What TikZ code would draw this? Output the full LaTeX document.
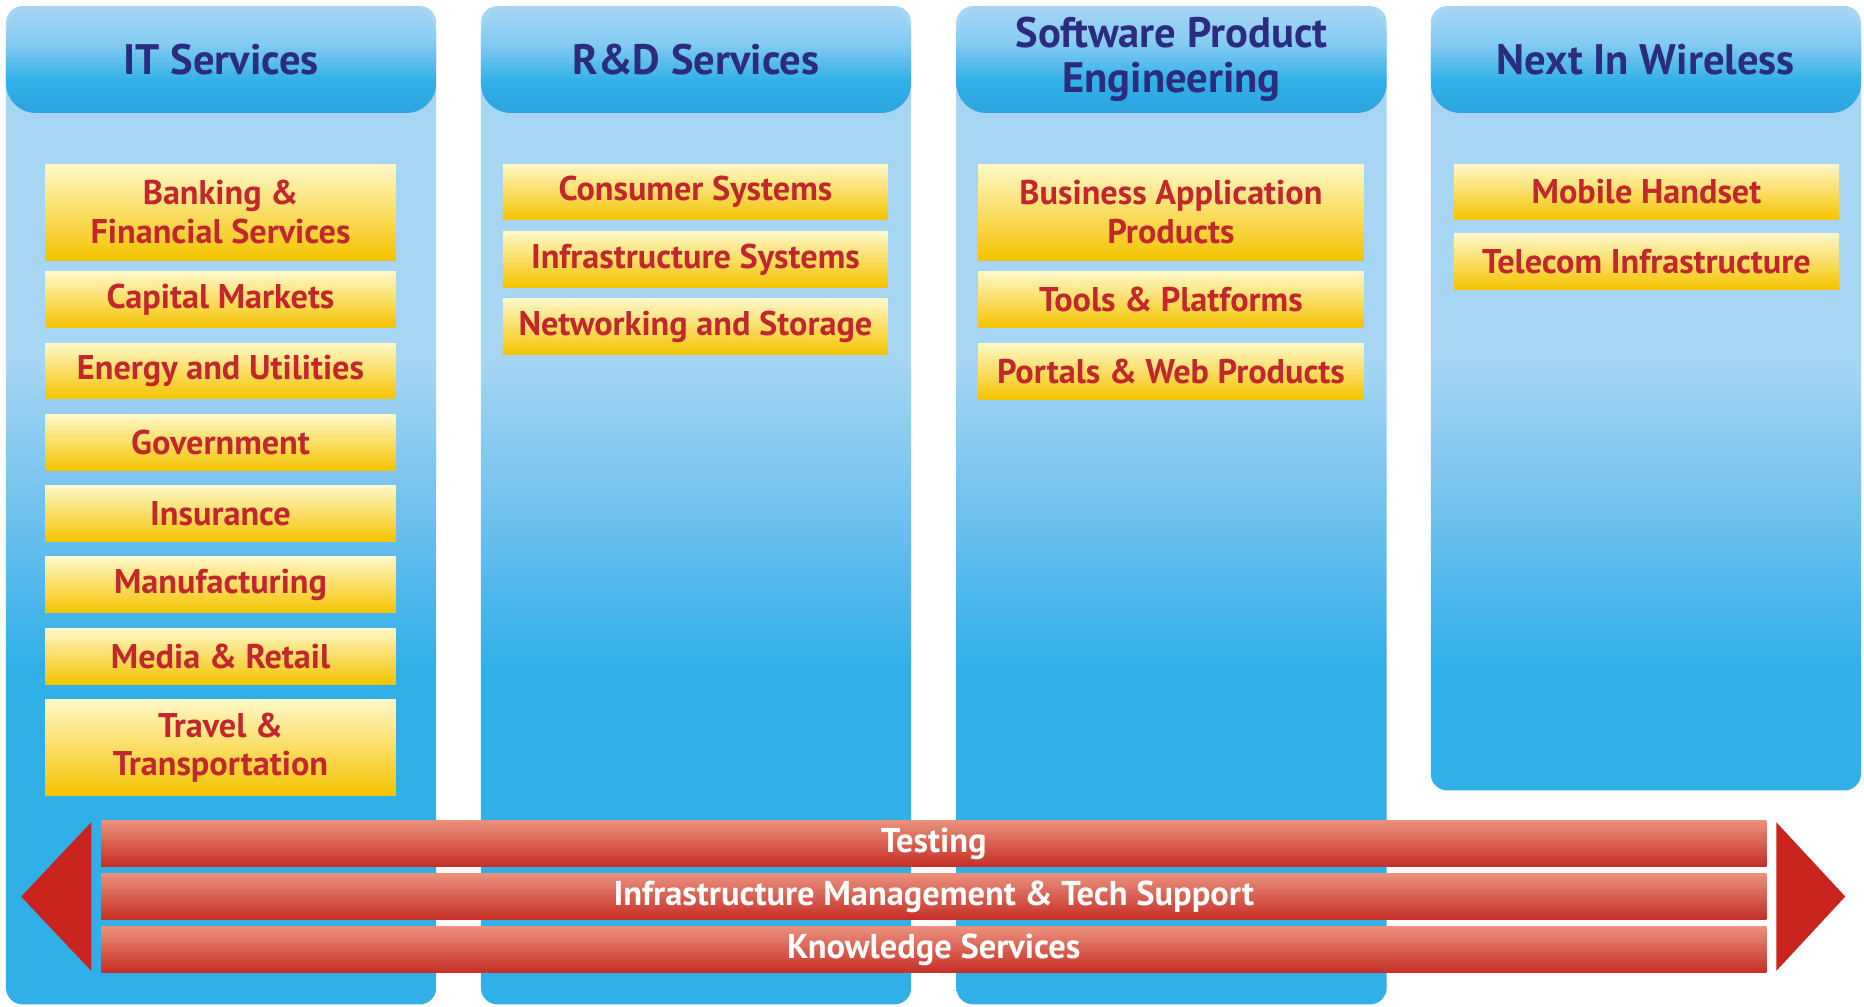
\documentclass[tikz,border=0pt]{standalone}
\usepackage{fontspec}
\setmainfont{PT Sans}
\usetikzlibrary{calc,positioning}
\definecolor{headtxt}{HTML}{2B2C7E}
\definecolor{itemtxt}{HTML}{C1272D}
\definecolor{skyL}{HTML}{A7D6F4}
\definecolor{skyM}{HTML}{70C1EE}
\definecolor{skyS}{HTML}{31B0E8}
\definecolor{headD}{HTML}{2CA4E0}
\definecolor{headM}{HTML}{86CBF2}
\definecolor{goldL}{HTML}{FFF8C8}
\definecolor{goldD}{HTML}{F5C300}
\definecolor{barL}{HTML}{EA917C}
\definecolor{barD}{HTML}{C62D25}
\definecolor{arrowred}{HTML}{C9231E}
\pgfdeclareverticalshading{colbody}{100bp}{color(0bp)=(skyS); color(42bp)=(skyS);
  color(49.7bp)=(skyM); color(57.4bp)=(skyL); color(100bp)=(skyL)}
\pgfdeclareverticalshading{colbodyshort}{100bp}{color(0bp)=(skyS); color(33bp)=(skyS);
  color(42.8bp)=(skyM); color(52.7bp)=(skyL); color(100bp)=(skyL)}
\pgfdeclareverticalshading{headband}{100bp}{color(0bp)=(headD); color(25bp)=(headD);
  color(40bp)=(skyS); color(58bp)=(headM); color(75bp)=(skyL); color(100bp)=(skyL)}
\tikzset{
column/.style={shade,shading=colbody,rounded corners=0.28cm,minimum width=7.24cm,
minimum height=16.8cm,inner sep=0pt},
header/.style={shade,shading=headband,rounded corners=0.5cm,minimum width=7.24cm,
minimum height=1.8cm,align=center,text=headtxt,inner sep=0pt,
font=\fontsize{20.4}{21.5}\selectfont\bfseries},
item/.style={top color=goldL,bottom color=goldD,minimum width=6.48cm,
minimum height=0.94cm,align=center,text=itemtxt,inner sep=0pt,
font=\fontsize{16.4}{18.5}\selectfont\bfseries},
wide item/.style={item,minimum width=5.9cm},
tall/.style={minimum height=1.62cm},
band/.style={top color=barL,bottom color=barD,minimum width=28.02cm,
minimum height=0.78cm,inner sep=0pt,text=white,
font=\fontsize{16.5}{18}\selectfont\bfseries},
}
\begin{document}
\begin{tikzpicture}[x=0.02cm,y=-0.02cm]
\fill[white] (0,0) rectangle (1568,847);
\useasboundingbox (0,0) rectangle (1568,847);

% columns
\node[column] (cit) at (186,425) {};
\node[column] (crd) at (585.5,425) {};
\node[column] (cspe) at (985.5,425) {};
\node[column,shading=colbodyshort,minimum height=13.2cm] (cnw) at (1384.5,335) {};

\node[header] (hit) at (186,50) {IT Services};
\node[header] (hrd) at (585.5,50) {R\&D Services};
\node[header] (hspe) at (985.5,50) {Software Product\\Engineering};
\node[header] (hnw) at (1384.5,50) {Next In Wireless};

% IT services
\node[wide item,tall] (bank) at (185.5,178.5) {Banking \&\\Financial Services};
\node[wide item,below=0.18cm of bank] (capm) {Capital Markets};
\node[wide item,below=0.245cm of capm] (enut) {Energy and Utilities};
\node[wide item,below=0.245cm of enut] (govt) {Government};
\node[wide item,below=0.245cm of govt] (insu) {Insurance};
\node[wide item,below=0.245cm of insu] (manu) {Manufacturing};
\node[wide item,below=0.245cm of manu] (mere) {Media \& Retail};
\node[wide item,tall,below=0.245cm of mere] (trav) {Travel \&\\Transportation};

% R&D services
\node[item] (cons) at (585,161.5) {Consumer Systems};
\node[item,below=0.18cm of cons] (infs) {Infrastructure Systems};
\node[item,below=0.18cm of infs] (nets) {Networking and Storage};

% software products
\node[item,tall] (bapp) at (985,178.5) {Business Application\\Products};
\node[item,below=0.18cm of bapp] (tool) {Tools \& Platforms};
\node[item,below=0.25cm of tool] (port) {Portals \& Web Products};

% wireless
\node[item] (mobh) at (1385,161.5) {Mobile Handset};
\node[item,below=0.22cm of mobh] (tele) {Telecom Infrastructure};

% horizontal bands
\node[band] (test) at (785.5,709.5) {Testing};
\node[band,below=0.1cm of test] (imts) {Infrastructure Management \& Tech Support};
\node[band,below=0.1cm of imts] (know) {Knowledge Services};

\fill[arrowred] ($(test.north west)+(-8,2)$) -- ($(know.south west)+(-8,-2)$)
  -- ($(imts.west)+(-67,0)$) -- cycle;
\fill[arrowred] ($(test.north east)+(8,2)$) -- ($(know.south east)+(8,-2)$)
  -- ($(imts.east)+(66,0)$) -- cycle;
\end{tikzpicture}
\end{document}
